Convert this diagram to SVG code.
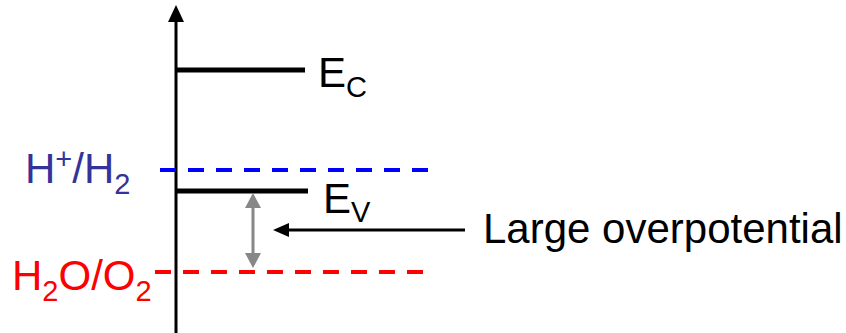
<svg xmlns="http://www.w3.org/2000/svg" width="846" height="333" viewBox="0 0 846 333">
  <style>
    .t { font-family: "Liberation Sans", Arial, sans-serif; font-size: 42px; }
    .sub { font-size: 29px; }
    .level { stroke: #000; stroke-width: 5; }
    .dash { stroke-width: 4; stroke-dasharray: 16 12; fill: none; }
  </style>
  <defs>
    <marker id="axisHead" markerUnits="userSpaceOnUse" viewBox="0 0 17 16" markerWidth="17" markerHeight="16" refX="2" refY="8" orient="auto">
      <path d="M0,0 L17,8 L0,16 z" fill="#000"/>
    </marker>
    <marker id="blackHead" markerUnits="userSpaceOnUse" viewBox="0 0 16 14" markerWidth="16" markerHeight="14" refX="2" refY="7" orient="auto">
      <path d="M0,0 L16,7 L0,14 z" fill="#000"/>
    </marker>
    <marker id="grayHead" markerUnits="userSpaceOnUse" viewBox="0 0 15 16" markerWidth="15" markerHeight="16" refX="2" refY="8" orient="auto-start-reverse">
      <path d="M0,0 L15,8 L0,16 z" fill="#878787"/>
    </marker>
  </defs>

  <g id="axis">
    <line x1="176" y1="333" x2="176" y2="20" stroke="#000" stroke-width="3" marker-end="url(#axisHead)"/>
  </g>

  <g id="ec">
    <line class="level" x1="176" y1="70" x2="305" y2="70"/>
    <text class="t" x="318" y="87">E<tspan class="sub" dy="10">C</tspan></text>
  </g>

  <g id="h-h2">
    <line class="dash" x1="160" y1="170" x2="428" y2="170" stroke="#0000FF"/>
    <text class="t" x="25" y="183" fill="#333399">H<tspan class="sub" dy="-14">+</tspan><tspan dy="14">/H</tspan><tspan class="sub" dy="11">2</tspan></text>
  </g>

  <g id="ev">
    <line class="level" x1="176" y1="191" x2="308" y2="191"/>
    <text class="t" x="323" y="213">E<tspan class="sub" dy="9">V</tspan></text>
  </g>

  <g id="h2o-o2">
    <line class="dash" x1="155" y1="272" x2="423" y2="272" stroke="#FF0000"/>
    <text class="t" x="12" y="290" fill="#FF0000">H<tspan class="sub" dy="11">2</tspan><tspan dy="-11">O/O</tspan><tspan class="sub" dy="11">2</tspan></text>
  </g>

  <g id="label">
    <text class="t" x="483" y="243">Large overpotential</text>
  </g>

  <g id="connectors">
    <line x1="253" y1="206" x2="253" y2="255" stroke="#878787" stroke-width="3" marker-start="url(#grayHead)" marker-end="url(#grayHead)"/>
    <line x1="465" y1="230" x2="287" y2="230" stroke="#000" stroke-width="3" marker-end="url(#blackHead)"/>
  </g>
</svg>
